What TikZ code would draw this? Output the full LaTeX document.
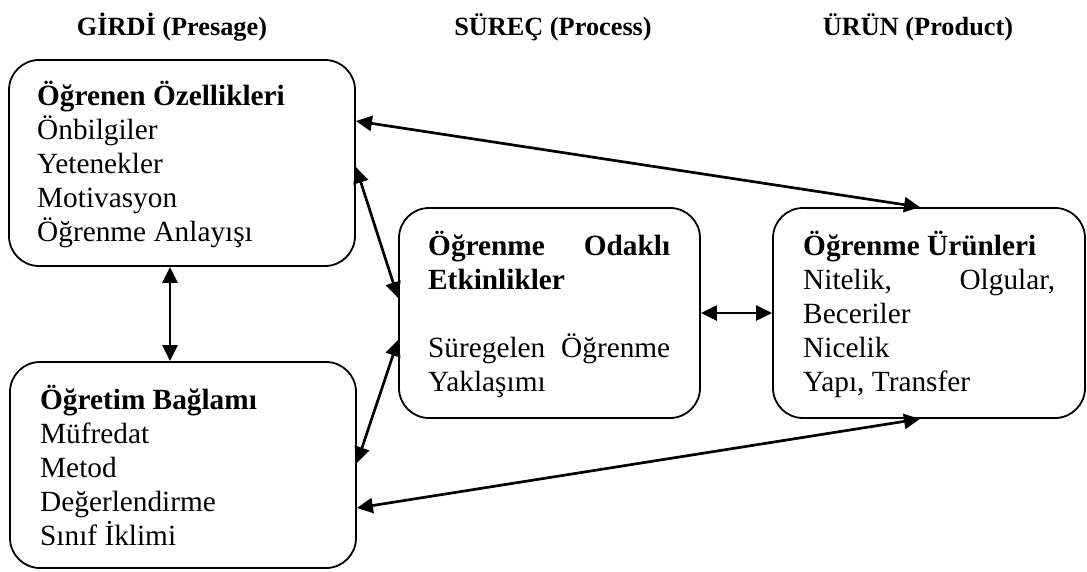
\documentclass[tikz,border=0pt]{standalone}
\usepackage{fontspec}
\setmainfont{Liberation Serif}
\usetikzlibrary{arrows.meta}
\begin{document}
\begin{tikzpicture}[x=1pt,y=-1pt,
  box/.style={draw,line width=1.8pt,rounded corners=30pt,inner sep=0pt},
  txt/.style={anchor=north west,inner sep=0pt,align=left,
    font=\fontsize{29.3}{34}\selectfont},
  head/.style={inner sep=0pt,font=\fontsize{26.3}{30}\selectfont\bfseries},
  link/.style={line width=2.7pt,
    {Triangle[length=16pt,width=15pt]}-{Triangle[length=16pt,width=15pt]}}]
\useasboundingbox (0,0) rectangle (1087,572);

% column headings
\node[head] (h1) at (172,27) {GİRDİ (Presage)};
\node[head] (h2) at (553,27) {SÜREÇ (Process)};
\node[head] (h3) at (918,27) {ÜRÜN (Product)};

% boxes
\node[box,minimum width=346pt,minimum height=206pt] (A) at (182,163) {};
\node[box,minimum width=346pt,minimum height=206pt] (B) at (183,465) {};
\node[box,minimum width=301pt,minimum height=210pt] (C) at (549.5,313) {};
\node[box,minimum width=312pt,minimum height=210pt] (D) at (929,313) {};

% box texts (first baseline minus strut height)
\node[txt] (tA) at (37,81.2) {\strut\textbf{Öğrenen Özellikleri}\\Önbilgiler\\Yetenekler\\Motivasyon\\Öğrenme Anlayışı};
\node[txt] (tB) at (40,385.2) {\strut\textbf{Öğretim Bağlamı}\\Müfredat\\Metod\\Değerlendirme\\Sınıf İklimi};
\node[txt] (tC) at (428,231.2) {\strut\makebox[242pt][s]{\textbf{Öğrenme Odaklı}}\\\textbf{Etkinlikler}\\[34pt]\makebox[242pt][s]{Süregelen Öğrenme}\\Yaklaşımı};
\node[txt] (tD) at (803,231.2) {\strut\textbf{Öğrenme Ürünleri}\\\makebox[252pt][s]{Nitelik, Olgular,}\\Beceriler\\Nicelik\\Yapı, Transfer};

% connectors
\draw[link] ([yshift=42pt]A.east) -- ([xshift=-9pt]D.north);
\draw[link] ([yshift=-4pt]A.east) -- ([yshift=15pt]C.west);
\draw[link] ([yshift=2pt]B.east) -- ([yshift=-27pt]C.west);
\draw[link] ([yshift=-43pt]B.east) -- ([xshift=-9pt]D.south);
\draw[link] ([xshift=-12pt]A.south) -- ([xshift=-13pt]B.north);
\draw[link] (C.east) -- (D.west);
\end{tikzpicture}
\end{document}
